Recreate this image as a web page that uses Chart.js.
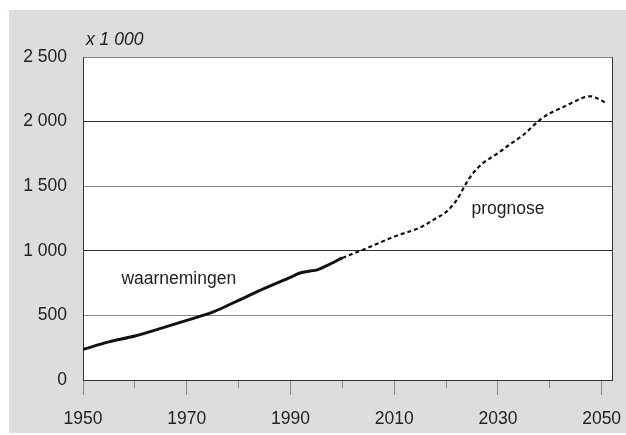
<!DOCTYPE html>
<html>
<head>
<meta charset="utf-8">
<script src="https://cdn.jsdelivr.net/npm/chart.js@4.4.1/dist/chart.umd.min.js"></script>
<style>
  html, body { margin: 0; padding: 0; background: #fff; }
  #wrap { width: 626px; height: 435px; }
</style>
</head>
<body>
<div id="wrap"><canvas id="bevolkingChart" width="626" height="435"></canvas></div>
<script>
// waarnemingen (observed), x 1 000
const obsYears = [1950, 1955, 1960, 1965, 1970, 1975, 1980, 1985, 1990, 1992, 1994, 1995, 1997, 2000];
const obsValues = [237, 295, 340, 400, 462, 525, 617, 710, 795, 830, 845, 850, 885, 945];
// prognose
const progYears = [2000, 2005, 2010, 2015, 2018, 2020, 2022, 2024, 2025, 2027, 2030, 2032, 2035, 2038, 2040, 2043, 2045, 2047, 2048, 2049, 2051];
const progValues = [945, 1025, 1110, 1180, 1250, 1300, 1390, 1530, 1590, 1675, 1755, 1815, 1900, 2010, 2064, 2120, 2160, 2192, 2196, 2182, 2142];

const unitLabel = "x 1 000";
const seriesLabels = ["waarnemingen", "prognose"];
// label anchors in data units (year, value)
const labelAnchors = [[1957.4, 782], [2024.9, 1323]];

const textColor = '#222';
const fontFamily = '"Liberation Sans", Arial, sans-serif';

function spaced(v) {
    return String(v).replace(/\B(?=(\d{3})+(?!\d))/g, ' ');
}

// labelled years are 1950, 1970, ... ; the ones between get a short tick
const isMinorYear = (v) => ((v - 1950) % 20) !== 0;

const toPoints = (xs, ys) => xs.map((x, i) => ({ x: x, y: ys[i] }));

const panelPlugin = {
    id: 'panel',
    beforeDraw(chart) {
        const ctx = chart.ctx;
        const a = chart.chartArea;
        ctx.save();
        ctx.fillStyle = '#dcdddf';
        ctx.fillRect(9, 10, chart.width - 9, chart.height - 12);
        ctx.fillStyle = '#fff';
        ctx.fillRect(a.left, a.top, a.right - a.left, a.bottom - a.top);
        ctx.restore();
    },
    afterDraw(chart) {
        const ctx = chart.ctx;
        const a = chart.chartArea;
        const xs = chart.scales.x;
        const ys = chart.scales.y;
        ctx.save();
        // right edge of the frame
        ctx.strokeStyle = '#333';
        ctx.lineWidth = 1;
        ctx.beginPath();
        ctx.moveTo(Math.round(a.right) + 0.5, a.top);
        ctx.lineTo(Math.round(a.right) + 0.5, a.bottom);
        ctx.stroke();

        ctx.fillStyle = textColor;
        ctx.textBaseline = 'middle';
        ctx.textAlign = 'left';
        ctx.font = 'italic 17.5px ' + fontFamily;
        ctx.fillText(unitLabel, a.left + 3, a.top - 17);

        ctx.font = '17.5px ' + fontFamily;
        labelAnchors.forEach((p, i) => {
            ctx.fillText(seriesLabels[i], xs.getPixelForValue(p[0]), ys.getPixelForValue(p[1]));
        });
        ctx.restore();
    }
};

const ctxBevolking = document.getElementById("bevolkingChart");
new Chart(ctxBevolking, {
    type: 'line',
    data: {
        datasets: [{
            label: seriesLabels[0],
            data: toPoints(obsYears, obsValues),
            borderColor: '#111',
            borderWidth: 3,
            pointRadius: 0,
            cubicInterpolationMode: 'monotone',
            fill: false
        },
        {
            label: seriesLabels[1],
            data: toPoints(progYears, progValues),
            borderColor: '#111',
            borderWidth: 2.2,
            borderDash: [4, 3],
            pointRadius: 0,
            cubicInterpolationMode: 'monotone',
            fill: false
        }]
    },
    options: {
        responsive: false,
        animation: false,
        layout: { padding: { left: 0, top: 57, right: 14, bottom: 0 } },
        plugins: {
            legend: { display: false },
            tooltip: { enabled: false }
        },
        scales: {
            x: {
                type: 'linear',
                min: 1950,
                max: 2052,
                afterFit: (scale) => {
                    scale.height = 55;
                    scale.paddingLeft = 0;
                    scale.paddingRight = 0;
                },
                border: { color: '#333', width: 1 },
                grid: {
                    drawOnChartArea: false,
                    drawTicks: true,
                    tickLength: 15,
                    tickWidth: 1,
                    tickColor: '#8a8a8a',
                    tickBorderDash: (c) => (c.tick && isMinorYear(c.tick.value)) ? [7, 30] : []
                },
                ticks: {
                    stepSize: 10,
                    includeBounds: false,
                    autoSkip: false,
                    maxRotation: 0,
                    padding: 14,
                    color: textColor,
                    font: { family: fontFamily, size: 17.5 },
                    callback: (v) => (isMinorYear(v) ? '' : String(v))
                }
            },
            y: {
                min: 0,
                max: 2500,
                afterFit: (scale) => { scale.width = 83; },
                border: { color: '#333', width: 1 },
                grid: {
                    drawTicks: false,
                    color: (c) => (c.tick && c.tick.value % 1000 === 500 ? '#8a8a8a' : '#333')
                },
                ticks: {
                    stepSize: 500,
                    padding: 16,
                    color: textColor,
                    font: { family: fontFamily, size: 17.5 },
                    callback: (v) => spaced(v)
                }
            }
        }
    },
    plugins: [panelPlugin]
});
</script>
</body>
</html>
